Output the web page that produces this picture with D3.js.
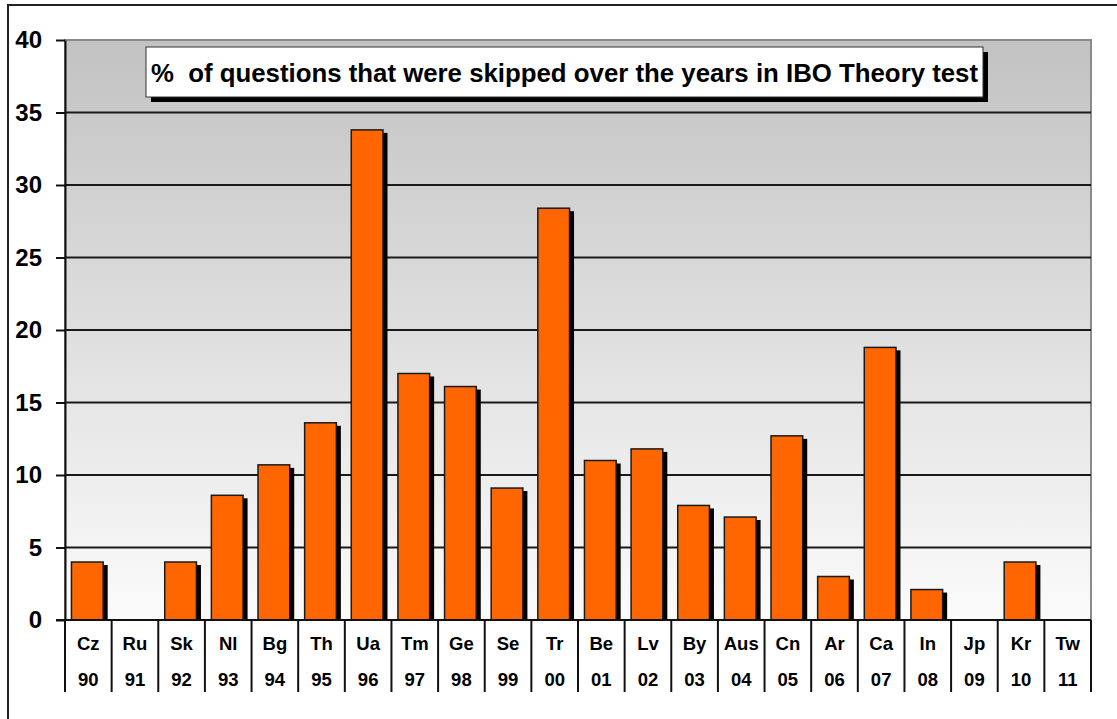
<!DOCTYPE html>
<html>
<head>
<meta charset="utf-8">
<script src="https://cdn.jsdelivr.net/npm/d3@7"></script>
<style>
body { margin: 0; background: #ffffff; }
</style>
</head>
<body>
<div class="chart"></div>
<script>
var countries = ["Cz", "Ru", "Sk", "Nl", "Bg", "Th", "Ua", "Tm", "Ge", "Se", "Tr",
                 "Be", "Lv", "By", "Aus", "Cn", "Ar", "Ca", "In", "Jp", "Kr", "Tw"];
var years = ["90", "91", "92", "93", "94", "95", "96", "97", "98", "99", "00",
             "01", "02", "03", "04", "05", "06", "07", "08", "09", "10", "11"];
var skipped = [4.0, 0, 4.0, 8.6, 10.7, 13.6, 33.8, 17.0, 16.1, 9.1, 28.4,
               11.0, 11.8, 7.9, 7.1, 12.7, 3.0, 18.8, 2.1, 0, 4.0, 0];
var yTicks = [0, 5, 10, 15, 20, 25, 30, 35, 40];
var title = "%  of questions that were skipped over the years in IBO Theory test";

var w = 1117;
var h = 719;
var plotL = 65, plotR = 1091, plotT = 40, plotB = 620;
var barColor = "#ff6600";
var font = "Arial, 'Liberation Sans', sans-serif";

var svg = d3.select(".chart")
    .append("svg")
    .attr("width", w)
    .attr("height", h);

// plot background gradient
var grad = svg.append("defs").append("linearGradient")
    .attr("id", "bg")
    .attr("x1", 0).attr("y1", 0)
    .attr("x2", 0).attr("y2", 1);
grad.append("stop").attr("offset", "0%").attr("stop-color", "#c2c2c2");
grad.append("stop").attr("offset", "100%").attr("stop-color", "#fbfbfb");

// outer chart border
svg.append("rect")
    .attr("x", 8)
    .attr("y", 5)
    .attr("width", w)
    .attr("height", h)
    .attr("fill", "#ffffff")
    .attr("stroke", "#222222")
    .attr("stroke-width", 2);

var x = d3.scaleBand()
    .domain(countries)
    .range([plotL, plotR])
    .padding(0);

var y = d3.scaleLinear()
    .domain([0, 40])
    .range([plotB, plotT]);

svg.append("rect")
    .attr("x", plotL)
    .attr("y", plotT)
    .attr("width", plotR - plotL)
    .attr("height", plotB - plotT)
    .attr("fill", "url(#bg)")
    .attr("stroke", "#8a8a8a")
    .attr("stroke-width", 2);

// gridlines
svg.append("g")
    .selectAll("line")
    .data(yTicks.filter(function(d) { return d > 0 && d < 40; }))
    .join("line")
    .attr("x1", plotL)
    .attr("x2", plotR)
    .attr("y1", function(d) { return y(d); })
    .attr("y2", function(d) { return y(d); })
    .attr("stroke", "#1a1a1a")
    .attr("stroke-width", 1.8);

// y axis
var yAxis = svg.append("g")
    .attr("transform", "translate(" + plotL + ",0)")
    .call(d3.axisLeft(y).tickValues(yTicks).tickSize(9).tickPadding(14).tickSizeOuter(0));
yAxis.select(".domain").attr("stroke", "#111111").attr("stroke-width", 2);
yAxis.selectAll(".tick line").attr("stroke", "#111111").attr("stroke-width", 2);
yAxis.selectAll(".tick text")
    .attr("font-family", font)
    .attr("font-size", "24px")
    .attr("font-weight", "bold")
    .attr("fill", "#000000");

// bars with shadow
var barW = x.bandwidth() * 0.68;
var bars = svg.append("g");
var shown = countries.map(function(c, i) { return {c: c, v: skipped[i]}; })
    .filter(function(d) { return d.v > 0; });

bars.selectAll(".shadow")
    .data(shown)
    .join("rect")
    .attr("class", "shadow")
    .attr("x", function(d) { return x(d.c) + (x.bandwidth() - barW) / 2 - 1 + 4.5; })
    .attr("y", function(d) { return y(d.v) + 3; })
    .attr("width", barW)
    .attr("height", function(d) { return plotB - y(d.v) - 3; })
    .attr("fill", "#000000");

bars.selectAll(".bar")
    .data(shown)
    .join("rect")
    .attr("class", "bar")
    .attr("x", function(d) { return x(d.c) + (x.bandwidth() - barW) / 2 - 1; })
    .attr("y", function(d) { return y(d.v); })
    .attr("width", barW)
    .attr("height", function(d) { return plotB - y(d.v); })
    .attr("fill", barColor)
    .attr("stroke", "#1a1a1a")
    .attr("stroke-width", 1.5);

// category axis line
svg.append("line")
    .attr("x1", plotL - 9)
    .attr("x2", plotR)
    .attr("y1", plotB)
    .attr("y2", plotB)
    .attr("stroke", "#111111")
    .attr("stroke-width", 2);

// category table dividers
var divs = countries.map(function(c) { return x(c); }).concat([plotR]);
svg.append("g")
    .selectAll("line")
    .data(divs)
    .join("line")
    .attr("x1", function(d) { return d; })
    .attr("x2", function(d) { return d; })
    .attr("y1", plotB)
    .attr("y2", 692)
    .attr("stroke", "#111111")
    .attr("stroke-width", 2);

var cats = svg.append("g")
    .attr("font-family", font)
    .attr("font-size", "18.5px")
    .attr("font-weight", "bold")
    .attr("text-anchor", "middle");

cats.selectAll(".country")
    .data(countries)
    .join("text")
    .attr("class", "country")
    .attr("x", function(d) { return x(d) + x.bandwidth() / 2; })
    .attr("y", 650)
    .text(function(d) { return d; });

cats.selectAll(".year")
    .data(years)
    .join("text")
    .attr("class", "year")
    .attr("x", function(d, i) { return x(countries[i]) + x.bandwidth() / 2; })
    .attr("y", 686)
    .text(function(d) { return d; });

// title box
var tb = svg.append("g");
tb.append("rect")
    .attr("x", 151)
    .attr("y", 52)
    .attr("width", 837)
    .attr("height", 50)
    .attr("fill", "#000000");
tb.append("rect")
    .attr("x", 146)
    .attr("y", 47)
    .attr("width", 837)
    .attr("height", 50)
    .attr("fill", "#ffffff")
    .attr("stroke", "#333333")
    .attr("stroke-width", 1);
tb.append("text")
    .attr("x", 564.5)
    .attr("y", 82)
    .attr("text-anchor", "middle")
    .attr("font-family", font)
    .attr("font-size", "25.8px")
    .attr("font-weight", "bold")
    .style("white-space", "pre")
    .text(title);
</script>
</body>
</html>
